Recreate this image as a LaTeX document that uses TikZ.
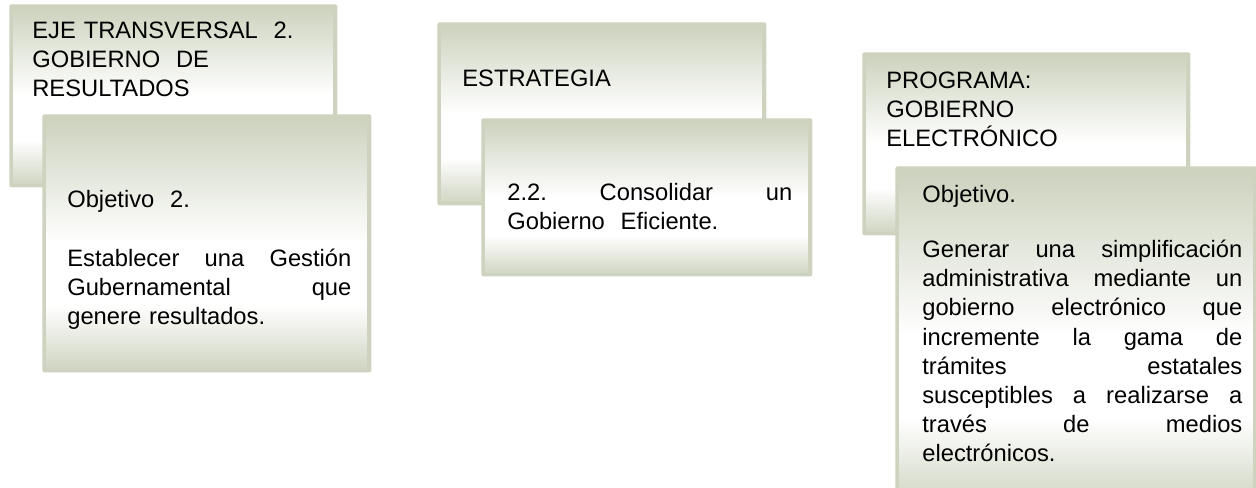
\documentclass[tikz,border=0pt]{standalone}
\usepackage{fontspec}
\setmainfont{Liberation Sans}
\usetikzlibrary{positioning, calc}
\definecolor{boxedge}{RGB}{205,211,191}
\definecolor{boxtextcol}{HTML}{000000}
\pgfdeclareverticalshading{boxgrad}{100bp}{color(0bp)=(boxedge); color(25bp)=(boxedge); color(38bp)=(white); color(50bp)=(white); color(74bp)=(boxedge); color(100bp)=(boxedge)}

\begin{document}
\begin{tikzpicture}[
    x=0.2mm, y=-0.2mm,
    boxsize/.style 2 args={minimum width=#1*0.2mm, minimum height=#2*0.2mm},
    panel/.style={rectangle, anchor=north west, inner sep=0pt, rounded corners=0.4mm, fill=boxedge,
        path picture={\shade[shading=boxgrad, sharp corners] ([shift={(4,4)}]path picture bounding box.north west) rectangle ([shift={(-5,-4)}]path picture bounding box.south east);}},
    boxtext/.style={anchor=base west, inner sep=0pt, align=left, text width=#1*0.2mm, color=boxtextcol,
        font=\fontsize{13.5pt}{16.6pt}\selectfont}
]
\clip (0,0) rectangle (1256,487);

% Eje transversal
\node[panel, boxsize={328}{183}] (eje) at (9,4) {};
\node[panel, boxsize={329}{258}] (ejeobj) at (42,114) {};

% Estrategia
\node[panel, boxsize={329}{183}] (estrat) at (437,22) {};
\node[panel, boxsize={331}{158}] (estratobj) at (481,118) {};

% Programa
\node[panel, boxsize={328}{183}] (prog) at (862,52) {};
\node[panel, boxsize={362}{340}] (progobj) at (895,166) {};

% Texts
\node[boxtext=300] (ejetxt) at (32,38) {EJE TRANSVERSAL\ \ 2.\\GOBIERNO\ \ DE\\RESULTADOS};
\node[boxtext=284] (ejeobjtxt) at (67,207) {Objetivo\ \ 2.\\[17pt]
    Establecer\hfill una\hfill Gestión\\
    Gubernamental\hfill que\\
    genere\ resultados.};

\node[boxtext=280] (estrattxt) at (462,86) {ESTRATEGIA};
\node[boxtext=285] (estratobjtxt) at (507,200) {2.2.\hfill Consolidar\hfill un\\Gobierno\ \ Eficiente.};

\node[boxtext=280] (progtxt) at (886,88) {PROGRAMA:\\GOBIERNO\\ELECTRÓNICO};
\node[boxtext=320] (progobjtxt) at (922,202) {Objetivo.\\[15pt]
    Generar\hfill una\hfill simplificación\\
    administrativa\hfill mediante\hfill un\\
    gobierno\hfill electrónico\hfill que\\
    incremente\hfill la\hfill gama\hfill de\\
    trámites\hfill estatales\\
    susceptibles\hfill a\hfill realizarse\hfill a\\
    través\hfill de\hfill medios\\
    electrónicos.};

\end{tikzpicture}
\end{document}
